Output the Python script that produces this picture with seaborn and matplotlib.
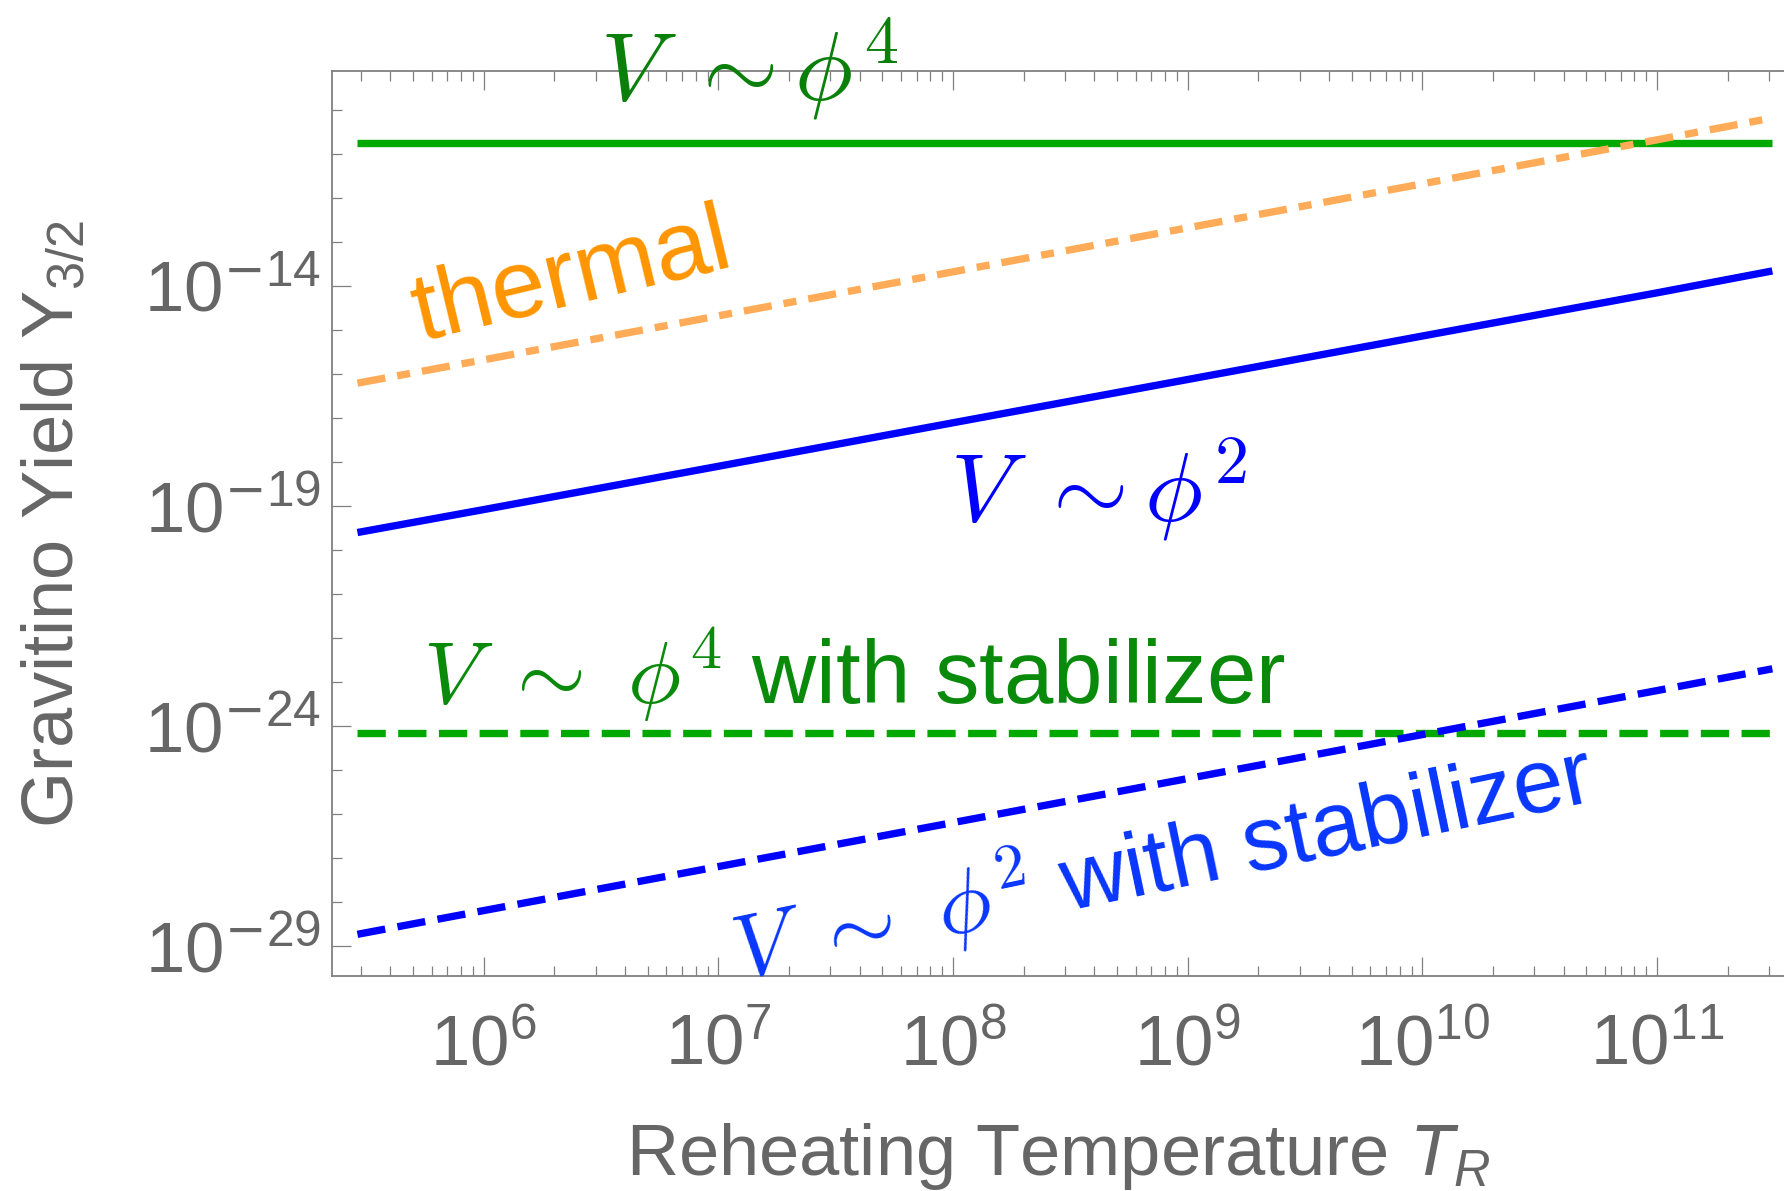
import numpy as np
import pandas as pd
import matplotlib
matplotlib.use("Agg")
import matplotlib.pyplot as plt
import matplotlib.ticker as mticker
import seaborn as sns

# ---------------- data ----------------
T_R = [2.9e5, 1e6, 1e7, 1e8, 1e9, 1e10, 1e11, 3.1e11]
Y_phi4 = [1.75e-11, 1.75e-11, 1.75e-11, 1.75e-11, 1.75e-11, 1.75e-11, 1.75e-11, 1.75e-11]
Y_thermal = [6.2e-17, 2.1e-16, 2.1e-15, 2.1e-14, 2.1e-13, 2.1e-12, 2.1e-11, 6.6e-11]
Y_phi2 = [2.5e-20, 8.3e-20, 8.0e-19, 7.8e-18, 7.5e-17, 7.3e-16, 7.0e-15, 2.2e-14]
Y_phi4_stab = [6.9e-25, 6.9e-25, 6.9e-25, 6.9e-25, 6.9e-25, 6.9e-25, 6.9e-25, 6.9e-25]
Y_phi2_stab = [1.85e-29, 6.4e-29, 6.4e-28, 6.4e-27, 6.4e-26, 6.4e-25, 6.4e-24, 2.0e-23]

x_major = [1e6, 1e7, 1e8, 1e9, 1e10, 1e11]
y_major = [1e-29, 1e-24, 1e-19, 1e-14]

# ---------------- style ----------------
sns.set_style("ticks")
plt.rcParams["font.family"] = ["Liberation Sans", "DejaVu Sans"]
plt.rcParams["mathtext.fontset"] = "custom"
plt.rcParams["mathtext.rm"] = "Liberation Sans"
plt.rcParams["mathtext.it"] = "Liberation Sans:italic"
plt.rcParams["mathtext.bf"] = "Liberation Sans:bold"

GRAY = "#666666"
SPINE = "#808080"

fig = plt.figure(figsize=(17.84, 11.91), dpi=100)
ax = fig.add_axes([332 / 1784, 1 - 976 / 1191, (1784 - 332) / 1784, (976 - 71) / 1191])

lw = 5.3
sns.lineplot(x=T_R, y=Y_phi4, ax=ax, color="#00a800", linewidth=lw, solid_capstyle="butt")
sns.lineplot(x=T_R, y=Y_phi4_stab, ax=ax, color="#00a800", linewidth=lw,
             linestyle=(0, (3.84, 1.69)))
sns.lineplot(x=T_R, y=Y_thermal, ax=ax, color="#ffab57", linewidth=lw,
             linestyle=(0, (3.84, 1.64, 1.78, 1.64)))
sns.lineplot(x=T_R, y=Y_phi2, ax=ax, color="#0000ff", linewidth=lw, solid_capstyle="butt")
sns.lineplot(x=T_R, y=Y_phi2_stab, ax=ax, color="#0000ff", linewidth=lw,
             linestyle=(0, (3.84, 1.69)))

ax.set_xscale("log")
ax.set_yscale("log")
ax.set_xlim(10 ** 5.354, 10 ** 11.541)
ax.set_ylim(10 ** -29.68, 10 ** -9.114)

# ticks
ax.xaxis.set_major_locator(mticker.FixedLocator(x_major))
ax.xaxis.set_minor_locator(mticker.LogLocator(base=10, subs=np.arange(2, 10), numticks=100))
ax.yaxis.set_major_locator(mticker.FixedLocator(y_major))
ax.yaxis.set_minor_locator(mticker.FixedLocator([10.0 ** k for k in range(-30, -8)]))
ax.xaxis.set_minor_formatter(mticker.NullFormatter())
ax.yaxis.set_minor_formatter(mticker.NullFormatter())

def fmt(v, pos):
    e = int(round(np.log10(v)))
    if e < 0:
        return r"$10^{\mathsf{-}%d}$" % (-e)
    return r"$10^{%d}$" % e

ax.xaxis.set_major_formatter(mticker.FuncFormatter(fmt))
ax.yaxis.set_major_formatter(mticker.FuncFormatter(fmt))

ax.tick_params(which="both", direction="in", color=SPINE, width=0.9,
               top=True, right=False, labelcolor=GRAY, labelsize=51)
ax.tick_params(which="major", length=14)
ax.tick_params(which="minor", length=7)
ax.tick_params(axis="x", which="major", pad=27)
ax.tick_params(axis="y", which="major", pad=8)

for side in ["left", "bottom", "top"]:
    ax.spines[side].set_color(SPINE)
    ax.spines[side].set_linewidth(1.3)
ax.spines["right"].set_visible(False)

ax.set_xlabel(r"Reheating Temperature $T_R$", fontsize=52, color=GRAY, labelpad=30)
ax.set_ylabel(r"Gravitino Yield $\mathrm{Y}_{3/2}$", fontsize=52, color=GRAY, labelpad=40)

# annotations
fig.text(600 / 1784, 1 - 100 / 1191, r"$V\ \sim\phi^4$",
         fontsize=70, color="#0a7f0a", math_fontfamily="cm", ha="left", va="baseline")
fig.text(420 / 1784, 1 - 341 / 1191, "thermal", fontsize=70, color="#ff9500",
         rotation=13.5, rotation_mode="anchor", ha="left", va="baseline")
fig.text(950 / 1784, 1 - 521 / 1191, r"$V\ \sim\phi^2$", fontsize=70, color="#0000ff",
         math_fontfamily="cm", ha="left", va="baseline")
fig.text(423 / 1784, 1 - 704 / 1191, r"$V\ \sim\ \phi^4$ with stabilizer", fontsize=64,
         color="#0a8a0a", math_fontfamily="cm", ha="left", va="baseline")
fig.text(740 / 1784, 1 - 980 / 1191, r"$V\ \sim\ \phi^2$ with stabilizer", fontsize=65,
         color="#0836ff", math_fontfamily="cm", rotation=11.8, rotation_mode="anchor",
         ha="left", va="baseline")

fig.savefig("out.png", dpi=100)
